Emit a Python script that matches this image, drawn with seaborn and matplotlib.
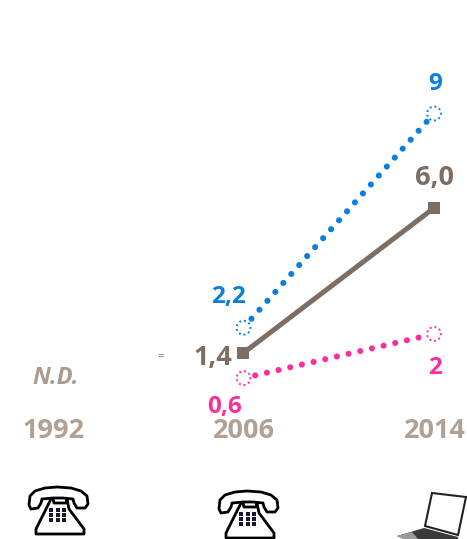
import pandas as pd
import seaborn as sns
import matplotlib.pyplot as plt
from matplotlib.patches import Polygon

years = ['1992', '2006', '2014']
blue_values = [2.2, 9]
brown_values = [1.4, 6.0]
pink_values = [0.6, 2]
blue_labels = ['2,2', '9']
brown_labels = ['1,4', '6,0']
pink_labels = ['0,6', '2']

BLUE = '#0a7fdc'
BROWN = '#7d6e63'
PINK = '#ff2d9b'
YEAR_COLOR = '#b0a194'
ND_COLOR = '#a99b8e'

sns.set_theme(style='white')
plt.rcParams['font.family'] = ['Open Sans', 'DejaVu Sans']

df = pd.DataFrame({
    'pos': [1, 2] * 3,
    'value': blue_values + brown_values + pink_values,
    'serie': ['blue'] * 2 + ['brown'] * 2 + ['pink'] * 2,
})

fig = plt.figure(figsize=(4.67, 5.39), dpi=100)
ax = fig.add_axes([0, 0, 1, 1])
ax.set_xlim(-53 / 190.5, (467 - 53) / 190.5)
ax.set_ylim(-142 / 31.5, 397 / 31.5)
ax.axis('off')

# dotted lines first, brown on top
for serie, color in [('blue', BLUE), ('pink', PINK)]:
    sub = df[df['serie'] == serie]
    lines_before = len(ax.lines)
    sns.lineplot(data=sub, x='pos', y='value', color=color, linewidth=4.4, ax=ax,
                 legend=False, errorbar=None)
    line = ax.lines[lines_before]
    line.set_linestyle((0, (0.01, 1.95)))
    line.set_dash_capstyle('round')
    sns.scatterplot(data=sub, x='pos', y='value', s=100, facecolor='white', edgecolor=color,
                    linewidth=1.4, linestyle=(0, (1, 1.5)), ax=ax, legend=False, zorder=4)

sub = df[df['serie'] == 'brown']
sns.lineplot(data=sub, x='pos', y='value', color=BROWN, linewidth=3.6, ax=ax,
             legend=False, errorbar=None)
sns.scatterplot(data=sub, x='pos', y='value', s=72, marker='s', color=BROWN, linewidth=0,
                ax=ax, legend=False, zorder=4)

# pixel overlay for the texts and the pictograms
px = fig.add_axes([0, 0, 1, 1], facecolor='none')
px.set_xlim(0, 467)
px.set_ylim(539, 0)
px.axis('off')


def label(x, y, txt, color, size=17.5, **kw):
    px.text(x, y, txt, color=color, fontsize=size, fontweight='bold', ha='center',
            va='center', **kw)


for x, year in zip([53, 244, 435], years):
    label(x, 431.5, year, YEAR_COLOR, size=19.5)

label(228, 297, blue_labels[0], BLUE)
label(435, 84, blue_labels[1], BLUE)
label(213, 358, brown_labels[0], BROWN, size=19.5)
label(435, 178, brown_labels[1], BROWN, size=19.5)
label(225, 407, pink_labels[0], PINK)
label(435, 368, pink_labels[1], PINK)
px.text(56, 378, 'N.D.', color=ND_COLOR, fontsize=17, fontweight='bold', style='italic',
        ha='center', va='center')
px.text(161, 357, '=', color=BROWN, fontsize=8, ha='center', va='center')


def phone(x0, y0):
    # handset
    hx = [2, 3, 8, 18, 30, 44, 54, 60, 61, 58, 50, 47, 46, 36, 26, 15, 14, 11, 4, 2]
    hy = [20, 11, 6, 3, 2, 3, 6, 11, 19, 23, 23, 18, 14, 13, 13, 14, 18, 23, 24, 20]
    px.add_patch(Polygon([(x0 + a, y0 + b) for a, b in zip(hx, hy)], closed=True,
                         facecolor='white', edgecolor='black', linewidth=2.0, joinstyle='round'))
    # body
    bx = [24, 9, 9, 57, 57, 42, 40, 39, 27, 26]
    by = [14, 44, 49, 49, 44, 24, 14, 18, 18, 14]
    px.add_patch(Polygon([(x0 + a, y0 + b) for a, b in zip(bx, by)], closed=True,
                         facecolor='white', edgecolor='black', linewidth=2.0, joinstyle='round'))
    # keypad
    for row in range(3):
        for col in range(3):
            px.plot(x0 + 24 + col * 6.5, y0 + 25 + row * 5.2, 's', ms=3.4, color='#1a1530', mew=0)


phone(27, 485)
phone(217, 489)

# laptop, cut by the right and bottom edges
px.add_patch(Polygon([(432, 493), (466, 497), (458, 535), (425, 526)], closed=True,
                     facecolor='white', edgecolor='#222222', linewidth=1.5))
px.add_patch(Polygon([(397, 536), (424, 528), (458, 537), (458, 539), (404, 539)], closed=True,
                     facecolor='#3a3a3a', edgecolor='none'))
px.add_patch(Polygon([(397, 536), (412, 532), (418, 539), (404, 539)], closed=True,
                     facecolor='#9a9a9a', edgecolor='none'))
px.set_xlim(0, 467)
px.set_ylim(539, 0)

plt.savefig('out.png', dpi=100)
plt.close()
